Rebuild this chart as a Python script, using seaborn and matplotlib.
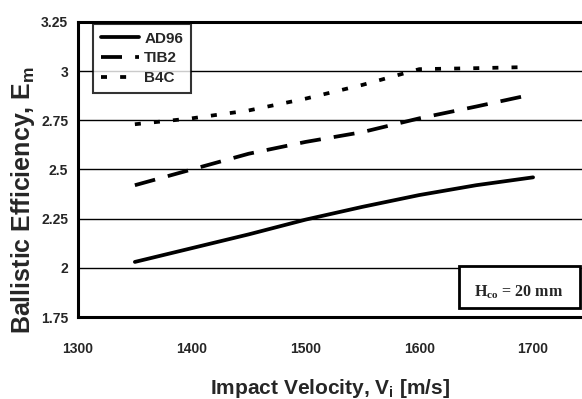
import pandas as pd
import seaborn as sns
import matplotlib.pyplot as plt
from matplotlib.patches import Rectangle

# Ballistic efficiency vs impact velocity
vel_ad96 = [1350, 1400, 1450, 1500, 1550, 1600, 1650, 1700]
eff_ad96 = [2.03, 2.10, 2.17, 2.245, 2.31, 2.37, 2.42, 2.46]

vel_tib2 = [1350, 1400, 1450, 1500, 1550, 1600, 1650, 1690]
eff_tib2 = [2.42, 2.50, 2.58, 2.64, 2.69, 2.76, 2.82, 2.87]

vel_b4c = [1350, 1400, 1450, 1500, 1550, 1600, 1650, 1690]
eff_b4c = [2.73, 2.76, 2.80, 2.86, 2.93, 3.01, 3.015, 3.02]

materials = ["AD96", "TIB2", "B4C"]
x_ticks = [1300, 1400, 1500, 1600, 1700]
y_ticks = [1.75, 2, 2.25, 2.5, 2.75, 3, 3.25]
y_tick_labels = ["1.75", "2", "2.25", "2.5", "2.75", "3", "3.25"]

df = pd.concat([
    pd.DataFrame({"vel": vel_ad96, "eff": eff_ad96, "mat": "AD96"}),
    pd.DataFrame({"vel": vel_tib2, "eff": eff_tib2, "mat": "TIB2"}),
    pd.DataFrame({"vel": vel_b4c, "eff": eff_b4c, "mat": "B4C"}),
])

sns.set_style("white")
plt.rcParams["font.family"] = ["Liberation Sans", "DejaVu Sans"]
plt.rcParams["mathtext.fontset"] = "custom"
plt.rcParams["mathtext.rm"] = "Liberation Sans:bold"
plt.rcParams["mathtext.bf"] = "Liberation Sans:bold"

fig = plt.figure(figsize=(5.82, 3.99), dpi=100)
ax = fig.add_axes([0.134, 0.2055, 0.866, 0.7395])

lw = 2.7
dashes = {"AD96": "", "TIB2": (5.6, 3.5), "B4C": (1.6, 3.5)}
sns.lineplot(data=df, x="vel", y="eff", hue="mat", style="mat",
             palette={m: "black" for m in materials}, dashes=dashes,
             hue_order=materials, style_order=materials,
             linewidth=lw, ax=ax)

ax.set_xlim(1300, 1743)
ax.set_ylim(1.75, 3.25)
ax.set_xticks(x_ticks)
ax.set_yticks(y_ticks)
ax.set_yticklabels(y_tick_labels)
ax.set_xticks([1350, 1450, 1550, 1650], minor=True)
ax.set_yticks([1.875, 2.125, 2.375, 2.625, 2.875, 3.125], minor=True)
ax.tick_params(axis="both", which="both", direction="in", length=3, width=2, color="black")
ax.tick_params(axis="x", which="major", pad=18, labelsize=10)
ax.tick_params(axis="y", which="major", pad=7, labelsize=10)
for lab in ax.get_xticklabels() + ax.get_yticklabels():
    lab.set_fontweight("bold")

ax.grid(axis="y", which="major", color="black", linewidth=1.0)
ax.set_axisbelow(True)
for side in ["left", "top", "bottom"]:
    ax.spines[side].set_linewidth(2.2)
    ax.spines[side].set_color("black")
ax.spines["right"].set_visible(False)

ax.set_xlabel(r"Impact Velocity, V$_\mathregular{i}$ [m/s]", fontsize=15,
              fontweight="bold", labelpad=15)
ax.set_ylabel(r"Ballistic Efficiency, E$_\mathregular{m}$", fontsize=18,
              fontweight="bold")
ax.yaxis.set_label_coords(-0.081, 0.397)

leg = ax.legend(loc="upper left", bbox_to_anchor=(0.03, 0.993), frameon=True,
                fancybox=False, edgecolor="black", fontsize=11, handlelength=2.5,
                borderpad=0.5, labelspacing=0.37, handletextpad=0.35,
                borderaxespad=0)
leg.get_frame().set_linewidth(1.5)
for t in leg.get_texts():
    t.set_fontweight("bold")

# H_co annotation box
ax.add_patch(Rectangle((0.756, 0.0305), 0.24, 0.1425, transform=ax.transAxes,
                       facecolor="white", edgecolor="black", linewidth=2, zorder=5))
ax.text(0.875, 0.085, r"H$_{\mathregular{co}}$ = 20 mm", transform=ax.transAxes,
        ha="center", va="center", fontsize=11.5, fontweight="bold",
        family="Liberation Serif", zorder=6)

fig.savefig("out.png", dpi=100)
